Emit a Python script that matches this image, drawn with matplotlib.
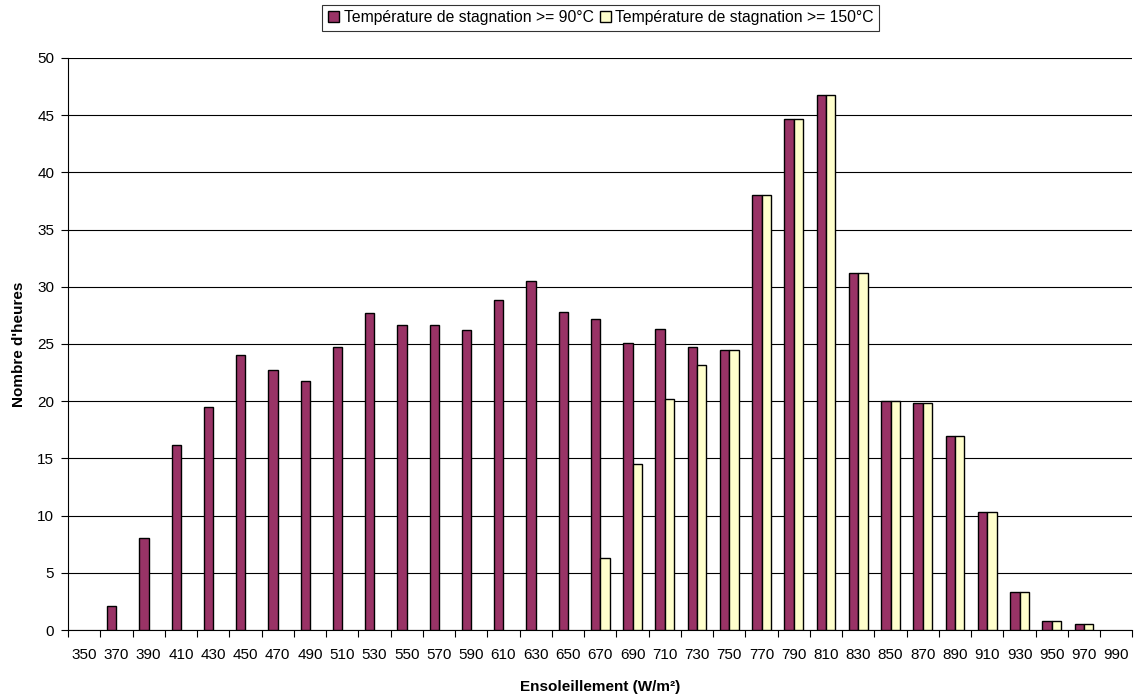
import matplotlib.pyplot as plt
import numpy as np

plt.rcParams["font.family"] = ["Liberation Sans", "DejaVu Sans"]

# Irradiance classes (W/m²) and hours per class
irradiance = [350, 370, 390, 410, 430, 450, 470, 490, 510, 530, 550, 570, 590, 610,
              630, 650, 670, 690, 710, 730, 750, 770, 790, 810, 830, 850, 870, 890,
              910, 930, 950, 970, 990]
hours_90 = [0, 2.1, 8.0, 16.2, 19.5, 24.0, 22.7, 21.8, 24.7, 27.7, 26.7, 26.7, 26.2, 28.8,
            30.5, 27.8, 27.2, 25.1, 26.3, 24.7, 24.5, 38.0, 44.7, 46.8, 31.2, 20.0, 19.8, 17.0,
            10.3, 3.3, 0.8, 0.5, 0]
hours_150 = [0, 0, 0, 0, 0, 0, 0, 0, 0, 0, 0, 0, 0, 0,
             0, 0, 6.3, 14.5, 20.2, 23.2, 24.5, 38.0, 44.7, 46.8, 31.2, 20.0, 19.8, 17.0,
             10.3, 3.3, 0.8, 0.5, 0]

label_90 = "Température de stagnation >= 90°C"
label_150 = "Température de stagnation >= 150°C"

x = np.arange(len(irradiance))
width = 0.29

fig = plt.figure(figsize=(11.36, 6.96), dpi=100)
ax = fig.add_axes([0.0599, 0.0948, 0.937, 0.822])

h90 = np.where(np.array(hours_90) > 0, hours_90, np.nan)
h150 = np.where(np.array(hours_150) > 0, hours_150, np.nan)
ax.bar(x - width / 2, h90, width, color="#993366", edgecolor="black", linewidth=1.0,
       label=label_90, zorder=3)
ax.bar(x + width / 2, h150, width, color="#FFFFCC", edgecolor="black", linewidth=1.0,
       label=label_150, zorder=3)

ax.set_xlim(-0.5, len(irradiance) - 0.5)
ax.set_ylim(0, 50)
ax.set_yticks(np.arange(0, 51, 5))
ax.yaxis.grid(True, color="black", linewidth=0.8, zorder=0)

# tick marks on category boundaries, labels at category centres
ax.set_xticks(np.arange(-0.5, len(irradiance), 1.0))
ax.set_xticklabels([])
ax.set_xticks(x, minor=True)
ax.set_xticklabels([str(v) for v in irradiance], minor=True)
ax.tick_params(axis="x", which="major", length=5, width=0.8, direction="out")
ax.tick_params(axis="x", which="minor", length=0, pad=13, labelsize=11)
ax.tick_params(axis="y", length=5, width=0.8, labelsize=11, pad=5)

for side in ("top", "right"):
    ax.spines[side].set_visible(False)
ax.spines["left"].set_linewidth(0.8)
ax.spines["bottom"].set_linewidth(0.8)

ax.set_xlabel("Ensoleillement (W/m²)", fontsize=11, fontweight="bold", labelpad=13)
ax.set_ylabel("Nombre d'heures", fontsize=11, fontweight="bold", labelpad=8)

leg = fig.legend(loc="upper center", bbox_to_anchor=(0.529, 0.993), ncol=2, fontsize=11.3,
                 frameon=True, fancybox=False, edgecolor="black", handlelength=0.7,
                 handleheight=0.7, handletextpad=0.3, columnspacing=0.4,
                 borderpad=0.35, borderaxespad=0)
leg.get_frame().set_linewidth(0.8)

fig.savefig("out.png", dpi=100)
